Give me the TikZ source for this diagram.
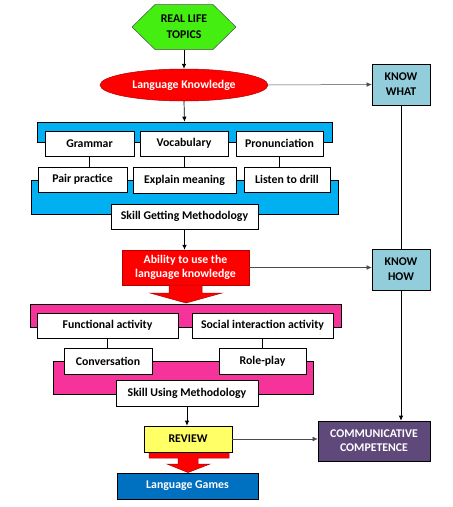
\documentclass[tikz,border=0pt]{standalone}
\usepackage{fontspec}
\setmainfont{Carlito}
\usetikzlibrary{shapes.geometric,arrows.meta}
\definecolor{hexgreen}{HTML}{44EE11}
\definecolor{kred}{HTML}{FF0000}
\definecolor{kdred}{HTML}{B00000}
\definecolor{bandblue}{HTML}{00B0F0}
\definecolor{bandpink}{HTML}{F6339A}
\definecolor{knowblue}{HTML}{92CDDC}
\definecolor{revyellow}{HTML}{FFFF66}
\definecolor{gameblue}{HTML}{0070C0}
\definecolor{ccpurple}{HTML}{5F497A}
\begin{document}
\begin{tikzpicture}[x=1pt,y=-1pt,
  font=\bfseries\fontsize{11.8}{14}\selectfont,
  box/.style={draw=black, line width=0.6pt, fill=white, inner sep=0pt, minimum height=25pt, align=center},
  band/.style={draw=black, line width=0.6pt, inner sep=0pt},
  knowbox/.style={draw=black, line width=0.6pt, fill=knowblue, inner sep=0pt, minimum width=58pt, minimum height=41pt, align=center, font=\bfseries\fontsize{11.8}{15}\selectfont},
  arr/.style={-{Latex[length=5pt,width=4.5pt]}, line width=0.7pt, black},
  garr/.style={-{Latex[length=5pt,width=4.5pt]}, line width=0.5pt, black!70},
  link/.style={line width=0.6pt, black}]
\useasboundingbox (0,0) rectangle (453,507);

% top
\fill[hexgreen, draw=black!70, line width=0.5pt] (132,27) -- (155,4.5) -- (213,4.5) -- (236,27) -- (213,49.5) -- (155,49.5) -- cycle;
\node[inner sep=0pt, minimum width=104pt, minimum height=45pt, align=center, font=\bfseries\fontsize{11.8}{16}\selectfont] (topics) at (184,27) {REAL LIFE\\TOPICS};

\node[ellipse, draw=kdred, line width=0.5pt, fill=kred, text=white, inner sep=0pt, minimum width=168pt, minimum height=32pt] (lk) at (184,85) {Language Knowledge};
\node[knowbox] (kw) at (401,84.5) {KNOW\\WHAT};

% blue block
\node[band, fill=bandblue, minimum width=295pt, minimum height=20pt] (bandA) at (184.5,132) {};
\node[band, fill=bandblue, minimum width=307pt, minimum height=34pt] (bandB) at (184.5,197) {};
\node[box, minimum width=89pt] (gram) at (89.5,143.5) {Grammar};
\node[box, minimum width=88pt] (voc) at (184,143.5) {Vocabulary};
\node[box, minimum width=87pt] (pron) at (279.5,143.5) {Pronunciation};
\node[box, minimum width=89pt] (pair) at (82.5,179.5) {Pair practice};
\node[box, minimum width=103pt, minimum height=26pt] (expl) at (184.5,180) {Explain meaning};
\node[box, minimum width=86pt] (listen) at (287,179.5) {Listen to drill};
\node[box, minimum width=147pt] (sgm) at (184.5,216.5) {Skill Getting Methodology};

% ability
\node[draw=kdred, line width=0.5pt, fill=kred, text=white, inner sep=0pt, minimum width=127pt, minimum height=35pt, align=center, font=\bfseries\fontsize{11.8}{13.5}\selectfont] (ability) at (185.5,267.5) {Ability to use the\\language knowledge};
\fill[kred, draw=kdred, line width=0.5pt] (169,285) -- (202,285) -- (202,293) -- (222,293) -- (186,303) -- (150,293) -- (169,293) -- cycle;
\node[knowbox] (kh) at (401,269.5) {KNOW\\HOW};

% pink block
\node[band, fill=bandpink, minimum width=311pt, minimum height=23pt] (bandC) at (185.5,315.5) {};
\node[band, fill=bandpink, minimum width=260pt, minimum height=33pt] (bandD) at (183,377.5) {};
\node[box, minimum width=141pt] (func) at (107.5,325.5) {Functional activity};
\node[box, minimum width=141pt] (social) at (262.5,325.5) {Social interaction activity};
\node[box, minimum width=88pt, minimum height=26pt] (conv) at (108,361) {Conversation};
\node[box, minimum width=87pt, minimum height=26pt] (role) at (262.5,361) {Role-play};
\node[box, minimum width=142pt, minimum height=26pt] (sum) at (187,393) {Skill Using Methodology};

% review
\fill[kred, draw=kdred, line width=0.5pt] (149,450) -- (229,450) -- (229,458) -- (198,458) -- (198,464) -- (210,464) -- (188,472.5) -- (167,464) -- (178,464) -- (178,458) -- (149,458) -- cycle;
\node[box, fill=revyellow, minimum width=88pt, minimum height=26pt] (review) at (188,439) {REVIEW};
\node[box, fill=gameblue, text=white, minimum width=141pt, minimum height=26pt] (lg) at (187.5,486) {Language Games};
\node[box, fill=ccpurple, text=white, minimum width=112pt, minimum height=40pt] (cc) at (374,441) {COMMUNICATIVE\\COMPETENCE};

% connectors
\draw[arr] (topics.south) -- (lk.north);
\draw[garr] (lk.east) -- (kw.west);
\draw[arr] (lk.south) -- (bandA.north);
\draw[link] (kw.south) -- (kh.north);
\draw[link] (gram.south) -- (pair.north -| gram.south);
\draw[link] (voc.south) -- (expl.north -| voc.south);
\draw[link] (pron.south) -- (listen.north -| pron.south);
\draw[arr] (sgm.south) -- (ability.north -| sgm.south);
\draw[garr] (ability.east) -- (ability.east -| kh.west);
\draw[link] (func.south) -- (conv.north -| func.south);
\draw[link] (social.south) -- (role.north -| social.south);
\draw[arr] (sum.south) -- (review.north -| sum.south);
\draw[garr] (review.east) -- (review.east -| cc.west);
\draw[arr] (kh.south) -- (kh.south |- cc.north);
\end{tikzpicture}
\end{document}
